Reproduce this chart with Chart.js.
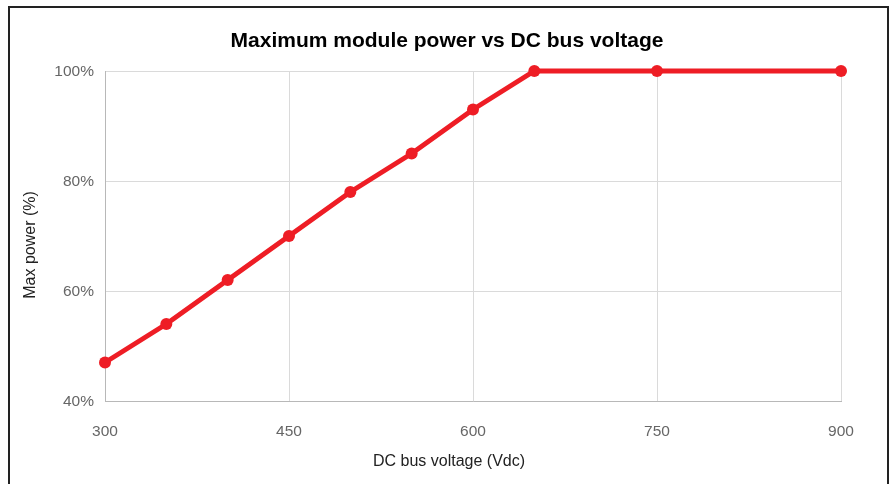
<!DOCTYPE html>
<html lang="en">
<head>
    <meta charset="utf-8">
    <title>Maximum module power vs DC bus voltage</title>
    <script src="https://cdn.jsdelivr.net/npm/chart.js"></script>
    <style>
        body { margin: 0; background: #fff; }
        /* frame around the figure, open at the bottom */
        #frame {
            position: absolute;
            left: 8px; top: 6px;
            width: 877px; height: 520px;
            border: 2px solid #222;
        }
        #wrap { position: absolute; left: 0; top: 0; width: 894px; height: 484px; }
    </style>
</head>
<body>
    <div id="frame"></div>
    <div id="wrap"><canvas id="chart" width="894" height="484"></canvas></div>

    <script>
        // data
        const voltages = [300, 350, 400, 450, 500, 550, 600, 650, 750, 900];
        const maxPower = [47, 54, 62, 70, 78, 85, 93, 100, 100, 100];
        const xTickValues = [300, 450, 600, 750, 900];
        const yTickValues = [40, 60, 80, 100];

        const chartTitle = 'Maximum module power vs DC bus voltage';
        const xTitle = 'DC bus voltage (Vdc)';
        const yTitle = 'Max power (%)';

        const FONT = "'Liberation Sans', Arial, sans-serif";
        const RED = '#ee1d25';

        // axis titles are centred on the whole figure, not on the plot area
        const axisTitles = {
            id: 'axisTitles',
            afterDraw(chart) {
                const ctx = chart.ctx;
                ctx.save();
                ctx.fillStyle = '#222';
                ctx.font = '16px ' + FONT;
                ctx.textAlign = 'center';
                ctx.textBaseline = 'middle';
                ctx.fillText(xTitle, 449, 462);
                ctx.translate(31, 245);
                ctx.rotate(-Math.PI / 2);
                ctx.fillText(yTitle, 0, 0);
                ctx.restore();
            }
        };

        new Chart(document.getElementById('chart').getContext('2d'), {
            type: 'line',
            data: {
                datasets: [{
                    data: voltages.map((v, i) => ({ x: v, y: maxPower[i] })),
                    borderColor: RED,
                    backgroundColor: RED,
                    pointBackgroundColor: RED,
                    pointBorderColor: RED,
                    borderWidth: 5,
                    pointRadius: 6,
                    pointBorderWidth: 0,
                    tension: 0,
                    clip: false
                }]
            },
            options: {
                responsive: false,
                animation: false,
                layout: { padding: 0 },
                plugins: {
                    legend: { display: false },
                    tooltip: { enabled: false },
                    title: {
                        display: true,
                        text: chartTitle,
                        color: '#000',
                        font: { family: FONT, size: 21, weight: 'bold' },
                        padding: { top: 28.4, bottom: 17.4 }
                    }
                },
                scales: {
                    x: {
                        type: 'linear',
                        min: 300,
                        max: 900,
                        afterBuildTicks: s => { s.ticks = xTickValues.map(v => ({ value: v })); },
                        afterFit: s => { s.height = 83; },
                        grid: { color: '#dadada', drawTicks: false },
                        border: { color: '#b8b8b8' },
                        ticks: {
                            color: '#666',
                            font: { family: FONT, size: 15.5 },
                            padding: 21,
                            maxRotation: 0
                        }
                    },
                    y: {
                        min: 40,
                        max: 100,
                        afterBuildTicks: s => { s.ticks = yTickValues.map(v => ({ value: v })); },
                        afterFit: s => { s.width = 105; },
                        grid: { color: '#dadada', drawTicks: false },
                        border: { color: '#b8b8b8' },
                        ticks: {
                            color: '#666',
                            font: { family: FONT, size: 15.5 },
                            padding: 11,
                            labelOffset: 1,
                            callback: v => v + '%'
                        }
                    },
                    // empty axis only to keep the right margin
                    yRight: {
                        position: 'right',
                        display: true,
                        afterFit: s => { s.width = 53; },
                        grid: { display: false },
                        border: { display: false },
                        ticks: { display: false }
                    }
                }
            },
            plugins: [axisTitles]
        });
    </script>
</body>
</html>
